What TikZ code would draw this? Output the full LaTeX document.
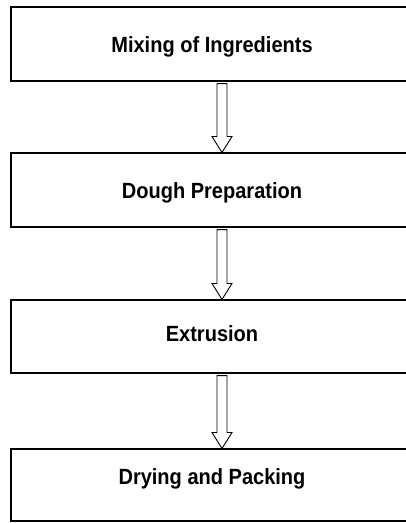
\documentclass[tikz,border=0pt]{standalone}
\usepackage{fontspec}
\newfontfamily\stepfont{Liberation Sans}[FakeStretch=0.91]
\usepackage{tikz}
\usetikzlibrary{calc}
\tikzstyle{stage} = [draw, line width=1.1pt, rectangle, minimum width=402pt,
    font=\stepfont\bfseries\fontsize{22}{24}\selectfont,
    text height=16pt, text depth=0pt, inner sep=0pt]
\tikzstyle{hollow} = [draw, line width=0.9pt, fill=white, line join=miter]
\newcommand{\flowarrow}[2]{%
    \path [hollow] ($(#1.south)+(5,2)$) -- ($(#2.north)+(5,-16)$)
        -- ($(#2.north)+(0,-16)$) -- ($(#2.north)+(10,0)$)
        -- ($(#2.north)+(20,-16)$) -- ($(#2.north)+(15,-16)$)
        -- ($(#1.south)+(15,2)$) -- cycle;}

\begin{document}
\begin{tikzpicture}[x=1pt, y=-1pt]
    \useasboundingbox (0,0) rectangle (406,523);
    \node [stage, minimum height=74pt] (mixing) at (212,44) {Mixing of Ingredients};
    \node [stage, minimum height=74pt] (dough) at (212,190) {Dough Preparation};
    \node [stage, minimum height=73pt, text depth=7pt] (extrusion) at (212,336.5) {Extrusion};
    \node [stage, minimum height=72pt, text depth=18pt] (drying) at (212,485) {Drying and Packing};
    \flowarrow{mixing}{dough}
    \flowarrow{dough}{extrusion}
    \flowarrow{extrusion}{drying}
\end{tikzpicture}
\end{document}
